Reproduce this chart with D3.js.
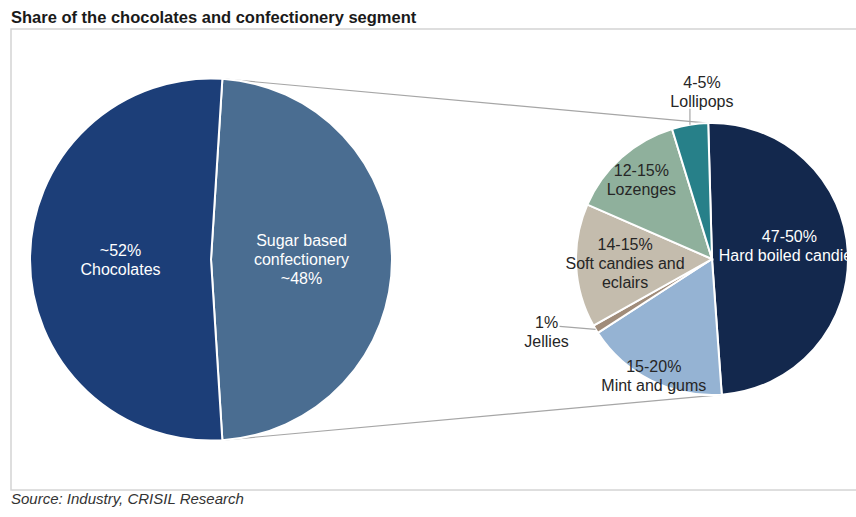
<!DOCTYPE html>
<html>
<head>
<meta charset="utf-8">
<script src="https://cdn.jsdelivr.net/npm/d3@7/dist/d3.min.js"></script>
<style>
  body { margin: 0; background: #fff; }
  svg { display: block; font-family: "Liberation Sans", Arial, sans-serif; }
</style>
</head>
<body>
<div id="chart"></div>
<script>
// ---- data ----
const mainCategories = ["Sugar based confectionery", "Chocolates"];
const mainValues = [48, 52];
const mainLabels = [["Sugar based", "confectionery", "~48%"], ["~52%", "Chocolates"]];

const subCategories = ["Hard boiled candies", "Mint and gums", "Jellies", "Soft candies and eclairs", "Lozenges", "Lollipops"];
const subValues = [49.3, 17, 1, 14.7, 13.7, 4.3];
const subLabels = [
  ["47-50%", "Hard boiled candies"],
  ["15-20%", "Mint and gums"],
  ["1%", "Jellies"],
  ["14-15%", "Soft candies and", "eclairs"],
  ["12-15%", "Lozenges"],
  ["4-5%", "Lollipops"]
];

// ---- styling ----
const W = 856, H = 517;
const mainColors = ["#4a6d91", "#1c3e78"];
const subColors = ["#13284d", "#95b3d3", "#a08c7a", "#c4bcad", "#8fb09c", "#278089"];
const subText = ["#fff", "#262626", "#262626", "#262626", "#262626", "#262626"];
// label radius as fraction of the pie radius (inside labels)
const subLabelR = [0.57, 0.96, null, 0.64, 0.78, null];
const deg = Math.PI / 180;

const svg = d3.select("#chart").append("svg")
  .attr("width", W).attr("height", H);

// frame
svg.append("rect")
  .attr("x", 11).attr("y", 29).attr("width", 880).attr("height", 461)
  .attr("fill", "none").attr("stroke", "#d4d4d4").attr("stroke-width", 1.5);

// title + source
svg.append("text").attr("x", 11).attr("y", 22.5)
  .attr("font-size", 16.5).attr("font-weight", "bold").attr("fill", "#1a1a1a")
  .text("Share of the chocolates and confectionery segment");
svg.append("text").attr("x", 11).attr("y", 504)
  .attr("font-size", 15).attr("font-style", "italic").attr("fill", "#333")
  .text("Source: Industry, CRISIL Research");

// ---- main pie ----
const c1 = { x: 211, y: 259.5 }, r1 = 181;
const pie1 = d3.pie().sort(null).startAngle(3.6 * deg).endAngle(363.6 * deg);
const arcs1 = pie1(mainValues);
const arc1 = d3.arc().innerRadius(0).outerRadius(r1);

// ---- sub pie ----
const c2 = { x: 712, y: 259 }, r2 = 136;
const pie2 = d3.pie().sort(null).startAngle(-1.6 * deg).endAngle(358.4 * deg);
const arcs2 = pie2(subValues);
const arc2 = d3.arc().innerRadius(0).outerRadius(r2);

const edge = (c, r, a) => [c.x + r * Math.sin(a), c.y - r * Math.cos(a)];

// connector lines between the sugar slice and the breakdown pie
const s = arcs1[0];
const subStart = arcs2[0].startAngle, subEnd = arcs2[0].endAngle;
[[s.startAngle, subStart], [s.endAngle, subEnd]].forEach(([a1, a2]) => {
  const p1 = edge(c1, r1, a1), p2 = edge(c2, r2, a2);
  svg.append("line")
    .attr("x1", p1[0]).attr("y1", p1[1]).attr("x2", p2[0]).attr("y2", p2[1])
    .attr("stroke", "#a6a6a6").attr("stroke-width", 1.2);
});

const g1 = svg.append("g").attr("transform", `translate(${c1.x},${c1.y})`);
g1.selectAll("path").data(arcs1).enter().append("path")
  .attr("d", arc1)
  .attr("fill", (d, i) => mainColors[i])
  .attr("stroke", "#fff").attr("stroke-width", 2);

const lab1 = d3.arc().innerRadius(r1 * 0.5).outerRadius(r1 * 0.5);
g1.selectAll("text.lbl").data(arcs1).enter().append("text")
  .attr("class", "lbl")
  .attr("text-anchor", "middle")
  .attr("font-size", 16).attr("fill", "#fff")
  .each(function (d, i) {
    const [x, y] = lab1.centroid(d);
    const lines = mainLabels[i];
    const lh = 19;
    const y0 = y - (lines.length - 1) * lh / 2 + 5.5;
    d3.select(this).selectAll("tspan").data(lines).enter().append("tspan")
      .attr("x", x).attr("y", (t, k) => y0 + k * lh).text(t => t);
  });

const g2 = svg.append("g").attr("transform", `translate(${c2.x},${c2.y})`);
g2.selectAll("path").data(arcs2).enter().append("path")
  .attr("d", arc2)
  .attr("fill", (d, i) => subColors[i])
  .attr("stroke", "#fff").attr("stroke-width", 2);

arcs2.forEach((d, i) => {
  const lines = subLabels[i];
  const lh = 19;
  let x, y;
  if (subLabelR[i] != null) {
    const a = (d.startAngle + d.endAngle) / 2;
    [x, y] = [subLabelR[i] * r2 * Math.sin(a), -subLabelR[i] * r2 * Math.cos(a)];
  } else {
    const a = (d.startAngle + d.endAngle) / 2;
    const [ex, ey] = [r2 * Math.sin(a), -r2 * Math.cos(a)];
    if (i === 5) {
      // lollipops: short vertical leader above the slice
      g2.append("line").attr("x1", ex).attr("y1", ey).attr("x2", ex).attr("y2", ey - 16)
        .attr("stroke", "#a6a6a6").attr("stroke-width", 1.2);
      x = ex + 12; y = ey - 33;
    } else {
      // jellies: horizontal leader to the left
      g2.append("line").attr("x1", ex).attr("y1", ey).attr("x2", ex - 36).attr("y2", ey - 3)
        .attr("stroke", "#a6a6a6").attr("stroke-width", 1.2);
      x = ex - 49; y = ey + 3;
    }
  }
  if (i === 0) y -= 9;
  const y0 = y - (lines.length - 1) * lh / 2 + 5.5;
  const t = g2.append("text").attr("text-anchor", "middle")
    .attr("font-size", 16).attr("fill", subText[i]);
  t.selectAll("tspan").data(lines).enter().append("tspan")
    .attr("x", x).attr("y", (s, k) => y0 + k * lh).text(s => s);
});
</script>
</body>
</html>
